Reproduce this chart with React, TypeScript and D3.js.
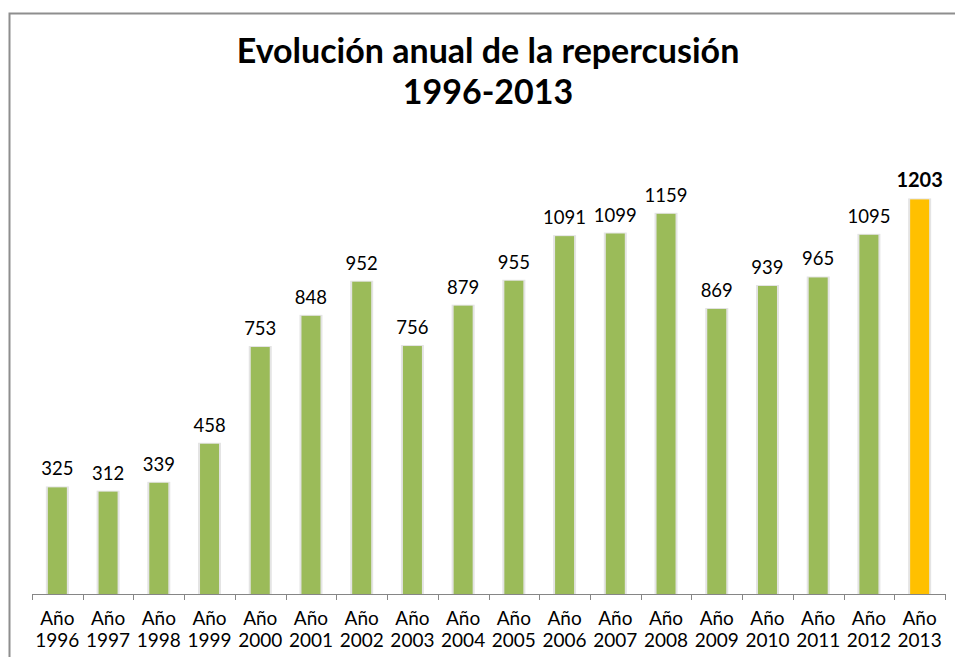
import React from "react";
import { scaleBand, scaleLinear } from "d3";

const years = [
  "1996", "1997", "1998", "1999", "2000", "2001", "2002", "2003", "2004",
  "2005", "2006", "2007", "2008", "2009", "2010", "2011", "2012", "2013",
];
const values = [
  325, 312, 339, 458, 753, 848, 952, 756, 879, 955, 1091, 1099, 1159, 869, 939,
  965, 1095, 1203,
];
const highlight = "2013";

const App = () => {
  const width = 955;
  const height = 657;
  const font = "Lato, 'Open Sans', sans-serif";
  const axisY = 594;

  const xScale = scaleBand().domain(years).range([32, 945]).padding(0);
  const yScale = scaleLinear().domain([0, 1400]).range([axisY, axisY - 1400 * 0.328]);
  const barW = 19;

  return (
    <div style={{ position: "absolute", left: 0, top: 0 }}>
      <svg width={width} height={height} style={{ display: "block", background: "#fff" }}>
        <rect x={9.5} y={13.5} width={980} height={700} fill="none" stroke="#8e8e8e" strokeWidth={2} />
        <text x={488} y={63} textAnchor="middle" fontFamily={font} fontWeight="bold" fontSize={34} fill="#000">
          Evolución anual de la repercusión
        </text>
        <text x={488} y={104} textAnchor="middle" fontFamily={font} fontWeight="bold" fontSize={34} fill="#000">
          1996-2013
        </text>

        {years.map((y, i) => {
          const cx = (xScale(y) as number) + xScale.bandwidth() / 2;
          const top = yScale(values[i]);
          const hl = y === highlight;
          return (
            <g key={y}>
              <rect x={cx - barW / 2 - 2} y={top - 1} width={barW + 4} height={axisY - top + 1} fill="#e4e4e4" />
              <rect x={cx - barW / 2} y={top} width={barW} height={axisY - top} fill={hl ? "#FFC000" : "#9BBB59"} />
              <text
                x={cx}
                y={top - 12}
                textAnchor="middle"
                fontFamily={font}
                fontSize={hl ? 20 : 18.5}
                fontWeight={hl ? "bold" : "normal"}
                fill="#000"
              >
                {values[i]}
              </text>
              <text x={cx} y={625} textAnchor="middle" fontFamily={font} fontSize={19} fill="#000">
                Año
              </text>
              <text x={cx} y={647} textAnchor="middle" fontFamily={font} fontSize={19} fill="#000">
                {y}
              </text>
            </g>
          );
        })}

        <line x1={32} x2={945} y1={axisY + 0.5} y2={axisY + 0.5} stroke="#868686" strokeWidth={1} />
        {years.concat(["end"]).map((_, i) => {
          const x = Math.round(32 + i * xScale.step()) + 0.5;
          return <line key={i} x1={x} x2={x} y1={axisY} y2={axisY + 6} stroke="#868686" strokeWidth={1} />;
        })}
      </svg>
    </div>
  );
};

export default App;
